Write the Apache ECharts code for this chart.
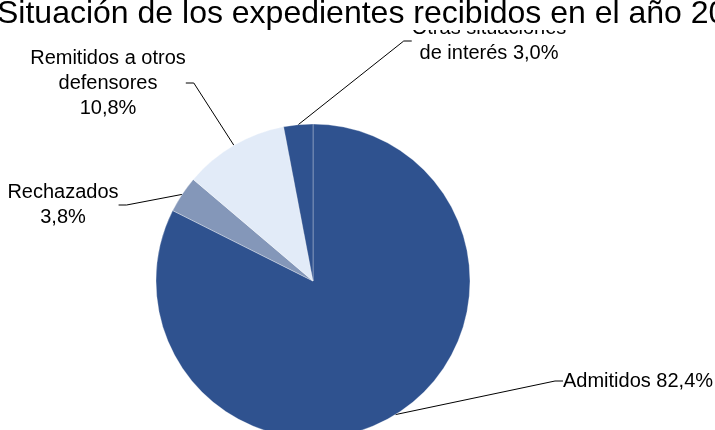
<!DOCTYPE html>
<html>
<head>
<meta charset="utf-8">
<script src="https://cdn.jsdelivr.net/npm/echarts@6/dist/echarts.min.js"></script>
<style>
html,body{margin:0;padding:0;background:#fff;}
#chart{width:715px;height:430px;}
</style>
</head>
<body>
<div id="chart"></div>
<script>
// ---- data ----
const titleText = 'Situación de los expedientes recibidos en el año 20';
const categories = ['Admitidos', 'Rechazados', 'Remitidos a otros\ndefensores', 'Otras situaciones\nde interés'];
const values = [82.4, 3.8, 10.8, 3.0];
const valueSeparators = [' ', '\n', '\n', ' '];

// ---- styles / layout ----
const sliceColors = ['#2F528F', '#8497B9', '#E2EBF8', '#2F528F'];
const labelPlacement = [
  { x: 563, y: 381, align: 'left' },
  { x: 63, y: 205, align: 'center' },
  { x: 108, y: 83, align: 'center' },
  { x: 489, y: 41, align: 'center' }
];
const font = '"Liberation Sans", Arial, Helvetica, sans-serif';

const chart = echarts.init(document.getElementById('chart'), null, { renderer: 'canvas' });

function fmt(v) {
  return v.toFixed(1).replace('.', ',') + '%';
}

chart.setOption({
  backgroundColor: '#ffffff',
  animation: false,
  title: {
    text: titleText,
    left: -3,
    top: 2,
    padding: 0,
    backgroundColor: '#ffffff',
    textStyle: { fontFamily: font, fontSize: 32, lineHeight: 24, fontWeight: 'normal', color: '#000' }
  },
  series: [{
    type: 'pie',
    center: [313, 281],
    radius: 157,
    startAngle: 90,
    clockwise: true,
    avoidLabelOverlap: false,
    data: categories.map((c, i) => ({
      name: c,
      value: values[i],
      itemStyle: { color: sliceColors[i] }
    })),
    itemStyle: { borderColor: 'rgba(255,255,255,0.3)', borderWidth: 1 },
    label: {
      show: true,
      position: 'outside',
      fontFamily: font,
      fontSize: 20,
      lineHeight: 25,
      color: '#000',
      formatter: p => p.name + valueSeparators[p.dataIndex] + fmt(p.value)
    },
    labelLine: {
      show: true,
      length: 10,
      length2: 8,
      lineStyle: { color: '#000', width: 1 }
    },
    labelLayout: p => {
      const lp = labelPlacement[p.dataIndex];
      return { x: lp.x, y: lp.y, align: lp.align, verticalAlign: 'middle' };
    },
    emphasis: { disabled: true }
  }]
});
</script>
</body>
</html>
